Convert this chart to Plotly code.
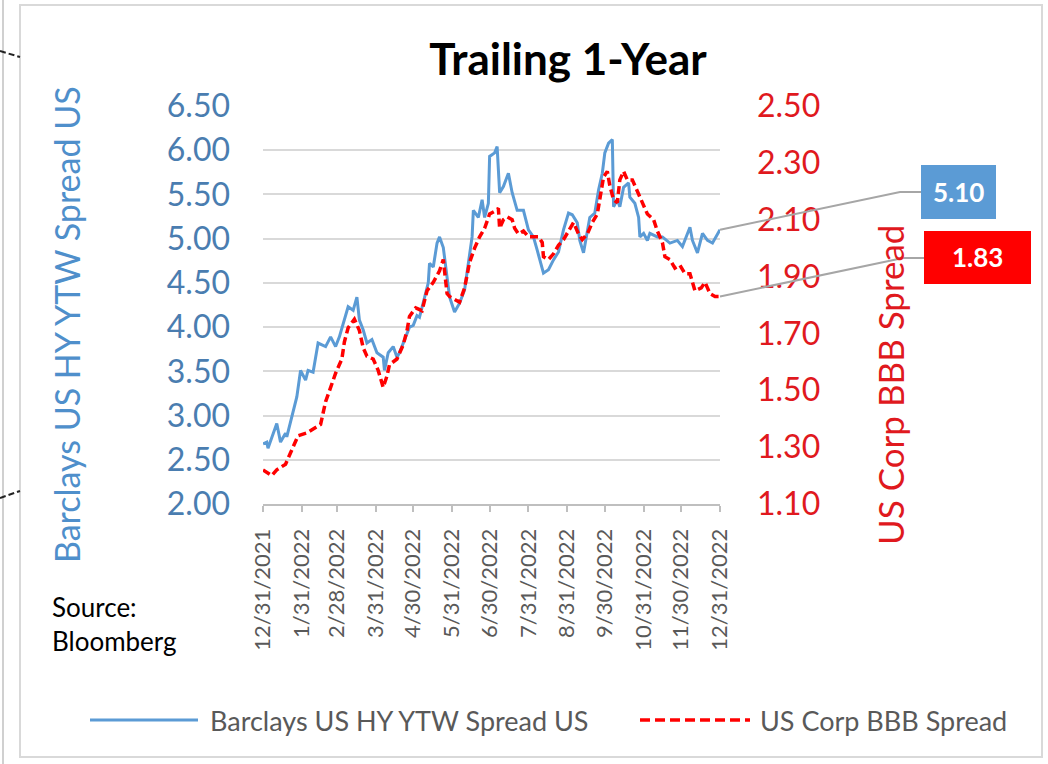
import plotly.graph_objects as go
import pandas as pd

# ---------------- data ----------------
hy_dates = ["2021-12-31","2022-01-03","2022-01-04","2022-01-11","2022-01-14","2022-01-18","2022-01-19","2022-01-24","2022-01-27","2022-01-30",
            "2022-02-03","2022-02-05","2022-02-09","2022-02-13","2022-02-19","2022-02-23","2022-02-27","2022-03-02","2022-03-06","2022-03-09",
            "2022-03-13","2022-03-16","2022-03-18","2022-03-21","2022-03-24","2022-03-28","2022-04-01","2022-04-06","2022-04-07","2022-04-10",
            "2022-04-14","2022-04-17","2022-04-19","2022-04-23","2022-04-27","2022-04-30","2022-05-03","2022-05-05","2022-05-09","2022-05-12",
            "2022-05-13","2022-05-16","2022-05-19","2022-05-21","2022-05-24","2022-05-27","2022-05-29","2022-06-02","2022-06-06","2022-06-10",
            "2022-06-13","2022-06-16","2022-06-17","2022-06-21","2022-06-24","2022-06-26","2022-06-29","2022-06-30","2022-07-04","2022-07-06",
            "2022-07-08","2022-07-11","2022-07-15","2022-07-18","2022-07-22","2022-07-27","2022-07-31","2022-08-04","2022-08-07","2022-08-09",
            "2022-08-12","2022-08-16","2022-08-20","2022-08-24","2022-08-28","2022-09-01","2022-09-04","2022-09-08","2022-09-10","2022-09-13",
            "2022-09-16","2022-09-18","2022-09-22","2022-09-25","2022-09-28","2022-09-30","2022-10-03","2022-10-06","2022-10-07","2022-10-10",
            "2022-10-12","2022-10-15","2022-10-19","2022-10-20","2022-10-24","2022-10-27","2022-10-28","2022-10-31","2022-11-03","2022-11-05",
            "2022-11-11","2022-11-15","2022-11-21","2022-11-27","2022-12-01","2022-12-05","2022-12-07","2022-12-09","2022-12-13","2022-12-17",
            "2022-12-21","2022-12-25","2022-12-29","2022-12-31"]
hy_values = [2.68,2.70,2.63,2.91,2.70,2.80,2.76,3.06,3.21,3.51,
             3.40,3.51,3.49,3.82,3.78,3.89,3.78,3.89,4.08,4.23,
             4.19,4.34,4.08,3.97,3.82,3.86,3.71,3.66,3.51,3.71,
             3.78,3.66,3.71,3.86,4.00,4.02,4.13,4.11,4.34,4.50,
             4.72,4.68,4.95,5.02,4.90,4.57,4.34,4.17,4.27,4.42,
             4.72,5.02,5.32,5.24,5.44,5.24,5.40,5.93,5.97,6.04,
             5.52,5.59,5.74,5.52,5.32,5.32,5.10,5.02,4.87,4.76,
             4.61,4.65,4.76,4.85,5.10,5.29,5.27,5.18,4.98,4.84,
             5.10,5.24,5.29,5.55,5.74,5.97,6.08,6.12,5.36,5.44,
             5.36,5.58,5.63,5.47,5.40,5.24,5.02,5.06,4.98,5.06,
             5.02,5.02,4.95,4.98,4.91,5.06,5.13,4.98,4.84,5.06,
             4.98,4.95,5.06,5.10]

bbb_dates = ["2021-12-31","2022-01-03","2022-01-07","2022-01-11","2022-01-18","2022-01-23","2022-01-28","2022-02-04","2022-02-11","2022-02-15",
             "2022-02-19","2022-02-23","2022-02-27","2022-03-04","2022-03-06","2022-03-09","2022-03-14","2022-03-18","2022-03-21","2022-03-24",
             "2022-03-29","2022-04-02","2022-04-06","2022-04-09","2022-04-11","2022-04-17","2022-04-22","2022-04-25","2022-04-27","2022-05-02",
             "2022-05-07","2022-05-11","2022-05-16","2022-05-21","2022-05-24","2022-05-27","2022-05-29","2022-06-02","2022-06-06","2022-06-10",
             "2022-06-14","2022-06-18","2022-06-22","2022-06-26","2022-06-30","2022-07-04","2022-07-07","2022-07-08","2022-07-11","2022-07-14",
             "2022-07-18","2022-07-20","2022-07-23","2022-07-27","2022-07-31","2022-08-04","2022-08-08","2022-08-11","2022-08-12","2022-08-16",
             "2022-08-20","2022-08-24","2022-08-28","2022-09-01","2022-09-05","2022-09-09","2022-09-12","2022-09-16","2022-09-20","2022-09-24",
             "2022-09-26","2022-09-29","2022-10-02","2022-10-04","2022-10-07","2022-10-10","2022-10-12","2022-10-15","2022-10-18","2022-10-22",
             "2022-10-26","2022-10-30","2022-11-03","2022-11-08","2022-11-11","2022-11-15","2022-11-17","2022-11-21","2022-11-25","2022-11-29",
             "2022-12-03","2022-12-07","2022-12-11","2022-12-16","2022-12-19","2022-12-23","2022-12-27","2022-12-31"]
bbb_values = [1.22,1.21,1.20,1.22,1.24,1.29,1.34,1.35,1.37,1.38,
              1.46,1.51,1.56,1.61,1.67,1.72,1.75,1.71,1.65,1.62,
              1.61,1.57,1.51,1.55,1.59,1.61,1.66,1.71,1.76,1.79,
              1.78,1.85,1.88,1.92,1.96,1.84,1.83,1.82,1.81,1.86,
              1.95,2.00,2.04,2.07,2.12,2.13,2.14,2.07,2.10,2.11,
              2.10,2.07,2.05,2.06,2.04,2.04,2.04,2.02,1.97,1.96,
              1.98,2.01,2.03,2.06,2.09,2.05,2.03,2.05,2.09,2.12,
              2.18,2.25,2.27,2.22,2.17,2.16,2.24,2.27,2.24,2.24,
              2.20,2.16,2.12,2.10,2.06,2.02,1.97,1.96,1.93,1.94,
              1.91,1.91,1.85,1.86,1.88,1.84,1.83,1.83]

x_tick_vals = ["2021-12-31","2022-01-31","2022-02-28","2022-03-31","2022-04-30","2022-05-31","2022-06-30",
               "2022-07-31","2022-08-31","2022-09-30","2022-10-31","2022-11-30","2022-12-31"]
x_tick_text = ["12/31/2021","1/31/2022","2/28/2022","3/31/2022","4/30/2022","5/31/2022","6/30/2022",
               "7/31/2022","8/31/2022","9/30/2022","10/31/2022","11/30/2022","12/31/2022"]
left_ticks = [2.00,2.50,3.00,3.50,4.00,4.50,5.00,5.50,6.00,6.50]
right_ticks = [1.10,1.30,1.50,1.70,1.90,2.10,2.30,2.50]

hy_name = "Barclays US HY YTW Spread US"
bbb_name = "US Corp BBB Spread"
title_text = "Trailing 1-Year"

# ---------------- layout helpers ----------------
W, H = 1048, 764
def px(x): return x / W
def py(y): return 1 - y / H

XD = [px(263), px(720)]
YD = [py(504), py(106)]
L_RANGE = [2.0, 6.5]
R_RANGE = [1.1, 2.5]
X_RANGE = ["2021-12-31", "2022-12-31"]

BLUE = "#5B9BD5"
RED = "#FF0000"
FONT = "Lato"

fig = go.Figure()
fig.add_trace(go.Scatter(x=hy_dates, y=hy_values, name=hy_name, mode="lines",
                         line=dict(color=BLUE, width=3), yaxis="y"))
fig.add_trace(go.Scatter(x=bbb_dates, y=bbb_values, name=bbb_name, mode="lines",
                         line=dict(color=RED, width=3.5, dash="8px,4px"), yaxis="y2"))

fig.update_layout(
    template="none",
    width=W, height=H, margin=dict(l=0, r=0, t=0, b=0, pad=0, autoexpand=False),
    paper_bgcolor="white", plot_bgcolor="white", showlegend=False,
    font=dict(family=FONT),
    title=dict(text="<b>%s</b>" % title_text, x=px(568), xanchor="center", xref="paper",
               y=py(60), yref="container", yanchor="middle", automargin=False,
               font=dict(family=FONT, size=44, color="#000000")),
    xaxis=dict(domain=XD, range=X_RANGE, type="date", tickvals=x_tick_vals, ticktext=x_tick_text,
               tickangle=-90, showgrid=False, zeroline=False, showline=True, automargin=False,
               linecolor="#BFBFBF", linewidth=2, ticks="outside", ticklen=6, tickwidth=2,
               tickcolor="#BFBFBF", tickfont=dict(family=FONT, size=22, color="#595959"),
               ticklabelstandoff=8),
    yaxis=dict(domain=YD, range=L_RANGE, tickvals=left_ticks, automargin=False,
               ticktext=["%.2f" % v for v in left_ticks], showgrid=True, gridcolor="#D9D9D9",
               gridwidth=2, zeroline=False, showline=False, ticks="",
               tickfont=dict(family=FONT, size=32, color="#4A7DB0"), ticklabelstandoff=32),
    yaxis2=dict(overlaying="y", side="right", anchor="x", range=R_RANGE, tickvals=right_ticks,
                automargin=False,
                ticktext=["%.2f" % v for v in right_ticks], showgrid=False, zeroline=False,
                showline=False, ticks="", tickfont=dict(family=FONT, size=32, color="#E0191E"),
                ticklabelstandoff=36),
)

shapes = []
annotations = []

# outer frame and side decorations
shapes.append(dict(type="rect", xref="paper", yref="paper", x0=px(20), x1=px(1042), y0=py(757), y1=py(5),
                   line=dict(color="#D9D9D9", width=2), layer="below"))
shapes.append(dict(type="line", xref="paper", yref="paper", x0=px(3), x1=px(3), y0=0, y1=1,
                   line=dict(color="#D0D0D0", width=2)))
shapes.append(dict(type="line", xref="paper", yref="paper", x0=px(0), x1=px(20), y0=py(51), y1=py(57),
                   line=dict(color="#222222", width=2, dash="6px,3px")))
shapes.append(dict(type="line", xref="paper", yref="paper", x0=px(0), x1=px(20), y0=py(498), y1=py(491),
                   line=dict(color="#222222", width=2, dash="6px,3px")))

# axis titles
annotations.append(dict(text=hy_name, xref="paper", yref="paper", x=px(66), y=py(325),
                        xanchor="center", yanchor="middle", textangle=-90, showarrow=False,
                        font=dict(family=FONT, size=34, color="#4F8FCB")))
annotations.append(dict(text=bbb_name, xref="paper", yref="paper", x=px(890), y=py(385),
                        xanchor="center", yanchor="middle", textangle=-90, showarrow=False,
                        font=dict(family=FONT, size=35, color="#E0191E")))

# source
annotations.append(dict(text="Source:<br>Bloomberg", xref="paper", yref="paper", x=px(50), y=py(624),
                        xanchor="left", yanchor="middle", align="left", showarrow=False,
                        font=dict(family=FONT, size=26, color="#000000")))

# custom legend
shapes.append(dict(type="line", xref="paper", yref="paper", x0=px(90), x1=px(198), y0=py(720), y1=py(720),
                   line=dict(color=BLUE, width=3)))
annotations.append(dict(text=hy_name, xref="paper", yref="paper", x=px(208), y=py(720),
                        xanchor="left", yanchor="middle", showarrow=False,
                        font=dict(family=FONT, size=27, color="#595959")))
shapes.append(dict(type="line", xref="paper", yref="paper", x0=px(640), x1=px(750), y0=py(720), y1=py(720),
                   line=dict(color=RED, width=3.5, dash="10px,5px")))
annotations.append(dict(text=bbb_name, xref="paper", yref="paper", x=px(758), y=py(720),
                        xanchor="left", yanchor="middle", showarrow=False,
                        font=dict(family=FONT, size=27, color="#595959")))

# last-value callouts, anchored to the data end points
t0 = pd.Timestamp(X_RANGE[0]); t1 = pd.Timestamp(X_RANGE[1])
def date_to_paper(d):
    f = (pd.Timestamp(d) - t0) / (t1 - t0)
    return XD[0] + f * (XD[1] - XD[0])
def val_to_paper(v, rng):
    return YD[0] + (v - rng[0]) / (rng[1] - rng[0]) * (YD[1] - YD[0])

hx = date_to_paper(hy_dates[-1]); hyv = val_to_paper(hy_values[-1], L_RANGE)
bx = date_to_paper(bbb_dates[-1]); byv = val_to_paper(bbb_values[-1], R_RANGE)

shapes.append(dict(type="path", xref="paper", yref="paper",
                   path="M %f,%f L %f,%f L %f,%f" % (hx, hyv, px(900), py(192), px(921), py(192)),
                   line=dict(color="#A6A6A6", width=2)))
shapes.append(dict(type="path", xref="paper", yref="paper",
                   path="M %f,%f L %f,%f L %f,%f" % (bx, byv, px(903), py(258), px(924), py(258)),
                   line=dict(color="#A6A6A6", width=2)))
shapes.append(dict(type="rect", xref="paper", yref="paper", x0=px(921), x1=px(996), y0=py(219), y1=py(165),
                   fillcolor=BLUE, line=dict(width=0)))
shapes.append(dict(type="rect", xref="paper", yref="paper", x0=px(924), x1=px(1031), y0=py(284), y1=py(231),
                   fillcolor=RED, line=dict(width=0)))
annotations.append(dict(text="<b>%.2f</b>" % hy_values[-1], xref="paper", yref="paper", x=px(958), y=py(192),
                        xanchor="center", yanchor="middle", showarrow=False,
                        font=dict(family=FONT, size=26, color="white")))
annotations.append(dict(text="<b>%.2f</b>" % bbb_values[-1], xref="paper", yref="paper", x=px(977), y=py(257),
                        xanchor="center", yanchor="middle", showarrow=False,
                        font=dict(family=FONT, size=26, color="white")))

fig.update_layout(shapes=shapes, annotations=annotations)
fig.write_html("out.html", config={"displayModeBar": False},
               post_script="document.body.style.margin='0px';document.body.style.overflow='hidden';")
